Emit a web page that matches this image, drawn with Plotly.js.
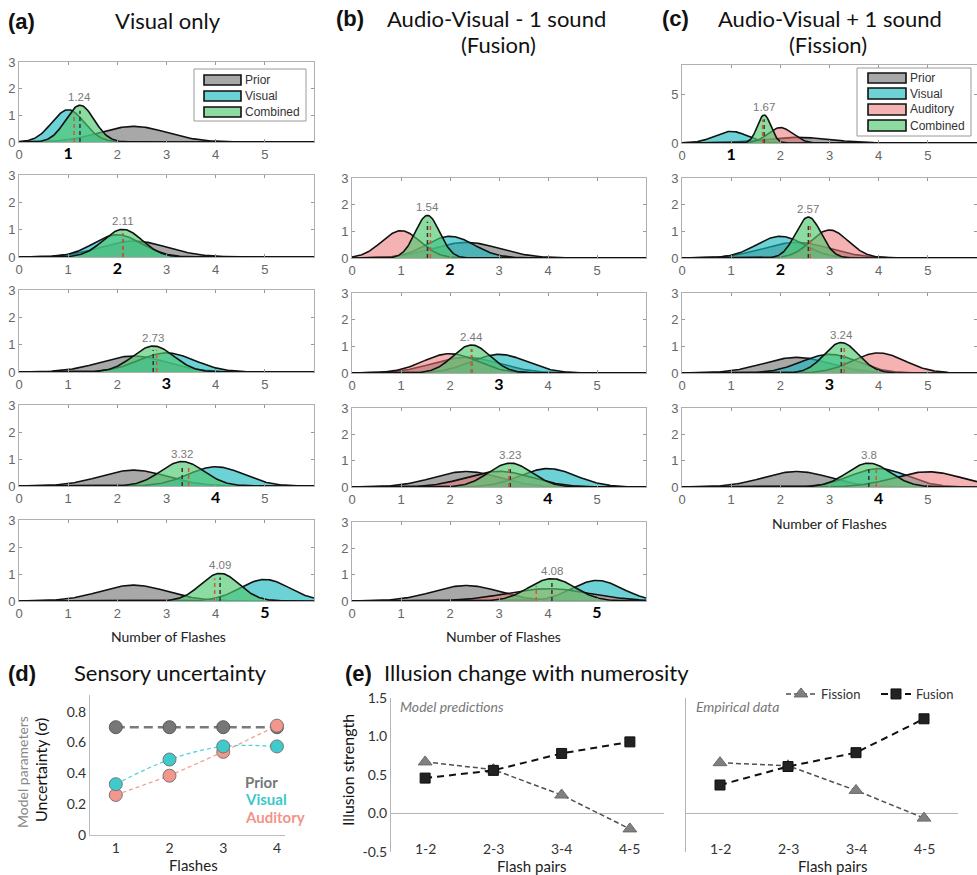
<!DOCTYPE html>
<html><head><meta charset="utf-8">
<script src="https://cdn.plot.ly/plotly-3.0.1.min.js"></script>
<style>body{margin:0;background:#fff}#chart{width:977px;height:875px}</style>
</head><body><div id="chart"></div>
<script>
// ---------------- DATA ----------------
const priorMean = 2.33;
const priorSigma = 0.68;
// (a) Visual only, rows = 1..5 flashes
const aFlashes = [1, 2, 3, 4, 5];
const aVisualMean = [1, 2, 3, 4, 5];
const aVisualSigma = [0.33, 0.49, 0.57, 0.56, 0.50];
const aCombinedMean = [1.24, 2.11, 2.73, 3.32, 4.09];
const aCombinedSigma = [0.29, 0.395, 0.42, 0.44, 0.39];
const aRedMarker = [1.12, 2.11, 2.80, 3.45, 3.98];
// (b) Audio-Visual - 1 sound (Fusion), rows = 2..5 flashes
const bFlashes = [2, 3, 4, 5];
const bVisualMean = [2, 3, 4, 5];
const bVisualSigma = [0.49, 0.57, 0.57, 0.51];
const bAuditoryMean = [1, 2, 3, 4];
const bAuditorySigma = [0.39, 0.55, 0.67, 0.85];
const bCombinedMean = [1.54, 2.44, 3.23, 4.08];
const bCombinedSigma = [0.25, 0.38, 0.44, 0.47];
const bRedMarker = [1.60, 2.44, 3.20, 3.76];
// (c) Audio-Visual + 1 sound (Fission), rows = 1..4 flashes
const cFlashes = [1, 2, 3, 4];
const cVisualMean = [1, 2, 3, 4];
const cVisualSigma = [0.33, 0.49, 0.57, 0.57];
const cAuditoryMean = [2, 3, 4, 5];
const cAuditorySigma = [0.25, 0.38, 0.53, 0.69];
const cCombinedMean = [1.67, 2.57, 3.24, 3.80];
const cCombinedSigma = [0.137, 0.26, 0.35, 0.44];
const cRedMarker = [1.64, 2.61, 3.30, 3.95];
// (d) Sensory uncertainty
const dFlashes = [1, 2, 3, 4];
const dPrior = [0.70, 0.70, 0.70, 0.70];
const dVisual = [0.33, 0.49, 0.575, 0.575];
const dAuditory = [0.26, 0.385, 0.54, 0.71];
// (e) Illusion change with numerosity
const flashPairs = ['1-2', '2-3', '3-4', '4-5'];
const modelFission = [0.67, 0.57, 0.24, -0.20];
const modelFusion = [0.46, 0.56, 0.78, 0.93];
const empFission = [0.66, 0.62, 0.30, -0.06];
const empFusion = [0.37, 0.61, 0.79, 1.23];

// ---------------- HELPERS ----------------
const W = 977, H = 875;
const px = v => v / W;
const py = v => 1 - v / H;
const TITLE_FONT = 'Lato, "Open Sans", sans-serif';
const TICK_FONT = '"Liberation Sans", Arial, sans-serif';
const COL = {
  prior: 'rgba(110,110,110,0.6)',
  visual: 'rgba(25,185,190,0.64)',
  auditory: 'rgba(236,115,115,0.55)',
  combined: 'rgba(80,200,112,0.66)'
};
function pdf(x, m, s) { return Math.exp(-0.5 * ((x - m) / s) ** 2) / (s * Math.sqrt(2 * Math.PI)); }
const xs = []; for (let i = 0; i <= 300; i++) xs.push(i * 0.02);

const traces = [];
const layout = {
  width: W, height: H, margin: {l: 0, r: 0, t: 0, b: 0, autoexpand: false},
  paper_bgcolor: '#fff', plot_bgcolor: '#fff', showlegend: true,
  font: {family: TITLE_FONT, color: '#222'},
  annotations: [], shapes: [],
  legend: {orientation: 'h', x: px(781), xanchor: 'left', y: py(679), yanchor: 'top',
           entrywidth: 50, entrywidthmode: 'pixels',
           font: {family: TITLE_FONT, size: 13, color: '#333'}, bgcolor: 'rgba(0,0,0,0)', traceorder: 'normal'}
};
let axN = 0;
function distPanel(xL, xR, yT, yB, bold, yMax, yTicks) {
  axN++;
  const k = axN === 1 ? '' : axN;
  const tt = [0,1,2,3,4,5].map(v => v === bold
    ? `<b><span style="color:#000;font-size:16px;font-family:Lato">${v}</span></b>` : String(v));
  layout['xaxis' + k] = {domain: [px(xL), px(xR)], range: [0, 6], anchor: 'y' + k,
    tickvals: [0,1,2,3,4,5], ticktext: tt, ticks: 'inside', ticklen: 3, tickcolor: '#999',
    showline: true, mirror: 'ticks', linecolor: '#b0b0b0', linewidth: 1, showgrid: false, zeroline: false,
    tickfont: {family: TICK_FONT, size: 13, color: '#666'}, fixedrange: true};
  layout['yaxis' + k] = {domain: [py(yB), py(yT)], range: [0, yMax], anchor: 'x' + k,
    tickvals: yTicks, ticks: 'inside', ticklen: 3, tickcolor: '#999',
    showline: true, mirror: 'ticks', linecolor: '#b0b0b0', linewidth: 1, showgrid: false, zeroline: false,
    tickfont: {family: TICK_FONT, size: 13, color: '#666'}, fixedrange: true};
  return {xa: 'x' + k, ya: 'y' + k};
}
function addDist(ax, m, s, fill) {
  traces.push({x: xs, y: xs.map(x => pdf(x, m, s)), xaxis: ax.xa, yaxis: ax.ya, type: 'scatter',
    mode: 'lines', fill: 'tozeroy', fillcolor: fill, line: {color: '#111', width: 1.6},
    hoverinfo: 'skip', showlegend: false});
}
function addMarkers(ax, darkX, redX, cm, cs) {
  const h1 = 0.85 * pdf(darkX, cm, cs), h2 = 0.85 * pdf(redX, cm, cs);
  traces.push({x: [darkX, darkX], y: [0, h1], xaxis: ax.xa, yaxis: ax.ya, mode: 'lines',
    line: {color: '#333', width: 1.5, dash: '4px,3px'}, hoverinfo: 'skip', showlegend: false});
  traces.push({x: [redX, redX], y: [0, h2], xaxis: ax.xa, yaxis: ax.ya, mode: 'lines',
    line: {color: '#d0583a', width: 1.5, dash: '4px,3px'}, hoverinfo: 'skip', showlegend: false});
  layout.annotations.push({xref: ax.xa, yref: ax.ya, x: cm, y: pdf(cm, cm, cs), yanchor: 'bottom',
    yshift: 0, text: cm.toString(), showarrow: false, font: {family: TICK_FONT, size: 11.5, color: '#7a7a7a'}});
}

// ---------------- (a) ----------------
const aRows = [[62,142],[175,257],[290,372],[405,486],[520,601]];
aFlashes.forEach((n, i) => {
  const ax = distPanel(19, 314, aRows[i][0], aRows[i][1], n, 3, [0,1,2,3]);
  addDist(ax, priorMean, priorSigma, COL.prior);
  addDist(ax, aVisualMean[i], aVisualSigma[i], COL.visual);
  addDist(ax, aCombinedMean[i], aCombinedSigma[i], COL.combined);
  addMarkers(ax, aCombinedMean[i], aRedMarker[i], aCombinedMean[i], aCombinedSigma[i]);
});
// ---------------- (b) ----------------
const bRows = [[178,258],[293,373],[408,487],[522,601]];
bFlashes.forEach((n, i) => {
  const ax = distPanel(352, 646, bRows[i][0], bRows[i][1], n, 3, [0,1,2,3]);
  addDist(ax, priorMean, priorSigma, COL.prior);
  addDist(ax, bVisualMean[i], bVisualSigma[i], COL.visual);
  addDist(ax, bAuditoryMean[i], bAuditorySigma[i], COL.auditory);
  addDist(ax, bCombinedMean[i], bCombinedSigma[i], COL.combined);
  addMarkers(ax, bCombinedMean[i], bRedMarker[i], bCombinedMean[i], bCombinedSigma[i]);
});
// ---------------- (c) ----------------
const cRows = [[65,143],[178,258],[293,373],[408,487]];
cFlashes.forEach((n, i) => {
  const ax = i === 0 ? distPanel(682, 977, cRows[i][0], cRows[i][1], n, 8.1, [0,5])
                     : distPanel(682, 977, cRows[i][0], cRows[i][1], n, 3, [0,1,2,3]);
  addDist(ax, priorMean, priorSigma, COL.prior);
  addDist(ax, cVisualMean[i], cVisualSigma[i], COL.visual);
  addDist(ax, cAuditoryMean[i], cAuditorySigma[i], COL.auditory);
  addDist(ax, cCombinedMean[i], cCombinedSigma[i], COL.combined);
  addMarkers(ax, cCombinedMean[i], cRedMarker[i], cCombinedMean[i], cCombinedSigma[i]);
});

// legends for (a) and (c)
function drawLegend(x0, x1, y0, y1, items, swX0, swX1, rows) {
  layout.shapes.push({type: 'rect', xref: 'paper', yref: 'paper', x0: px(x0), x1: px(x1), y0: py(y1), y1: py(y0),
    line: {color: '#9a9a9a', width: 1}, fillcolor: '#fff', layer: 'above'});
  items.forEach((it, j) => {
    layout.shapes.push({type: 'rect', xref: 'paper', yref: 'paper', x0: px(swX0), x1: px(swX1),
      y0: py(rows[j][1]), y1: py(rows[j][0]), line: {color: '#111', width: 1.6}, fillcolor: it[1], layer: 'above'});
    layout.annotations.push({xref: 'paper', yref: 'paper', x: px(swX1 + 2), y: py((rows[j][0] + rows[j][1]) / 2),
      xanchor: 'left', yanchor: 'middle', text: it[0], showarrow: false,
      font: {family: TICK_FONT, size: 12, color: '#333'}});
  });
}
drawLegend(194, 306, 69, 121, [['Prior', COL.prior], ['Visual', COL.visual], ['Combined', COL.combined]],
  204, 241, [[75,85],[91,101],[107,117]]);
drawLegend(857, 971, 68, 136, [['Prior', COL.prior], ['Visual', COL.visual], ['Auditory', COL.auditory], ['Combined', COL.combined]],
  868, 906, [[73,83],[88,99],[104,115],[120,131]]);

// ---------------- (d) ----------------
axN++; const dk = axN;
layout['xaxis' + dk] = {domain: [px(90), px(285)], range: [0.52, 4.15], anchor: 'y' + dk, tickvals: dFlashes,
  showline: true, linecolor: '#bdbdbd', showgrid: false, zeroline: false, ticks: '',
  tickfont: {family: TITLE_FONT, size: 14, color: '#333'}, fixedrange: true};
layout['yaxis' + dk] = {domain: [py(835), py(695)], range: [0, 0.909], anchor: 'x' + dk,
  tickvals: [0, 0.2, 0.4, 0.6, 0.8], ticktext: ['0', '0.2', '0.4', '0.6', '0.8'],
  showline: true, linecolor: '#bdbdbd', showgrid: false, zeroline: false, ticks: '',
  tickfont: {family: TITLE_FONT, size: 14, color: '#333'}, fixedrange: true};
traces.push({x: dFlashes, y: dPrior, xaxis: 'x' + dk, yaxis: 'y' + dk, mode: 'lines+markers', showlegend: false,
  line: {color: '#7a7a7a', width: 2.6, dash: '9px,5px'},
  marker: {size: 13, color: '#777', line: {color: '#5a5a5a', width: 1}}, hoverinfo: 'skip'});
traces.push({x: dFlashes, y: dAuditory, xaxis: 'x' + dk, yaxis: 'y' + dk, mode: 'lines+markers', showlegend: false,
  line: {color: '#f2a098', width: 1.3, dash: '4px,3px'},
  marker: {size: 13, color: '#f3968c', line: {color: '#777', width: 1}}, hoverinfo: 'skip'});
traces.push({x: dFlashes, y: dVisual, xaxis: 'x' + dk, yaxis: 'y' + dk, mode: 'lines+markers', showlegend: false,
  line: {color: '#55d2d4', width: 1.3, dash: '4px,3px', shape: 'spline', smoothing: 1},
  marker: {size: 13, color: '#3fcacc', line: {color: '#777', width: 1}}, hoverinfo: 'skip'});

// ---------------- (e) ----------------
function ePanel(xL, xR, showTicks) {
  axN++; const k = axN;
  layout['xaxis' + k] = {domain: [px(xL), px(xR)], type: 'category', range: [-0.5, 3.5], anchor: 'y' + k,
    showline: false, showgrid: false, zeroline: false, ticks: '', showticklabels: false, fixedrange: true};
  layout['yaxis' + k] = {domain: [py(852), py(698)], range: [-0.5, 1.5], anchor: 'x' + k,
    tickvals: [-0.5, 0, 0.5, 1, 1.5], ticktext: ['-0.5', '0.0', '0.5', '1.0', '1.5'], showticklabels: showTicks,
    showline: true, linecolor: '#b5b5b5', showgrid: false, zeroline: true, zerolinecolor: '#b5b5b5', zerolinewidth: 1,
    ticks: '', tickfont: {family: TITLE_FONT, size: 14, color: '#333'}, fixedrange: true};
  // category labels sit inside the bottom of the plot area (Excel style)
  flashPairs.forEach(c => layout.annotations.push({xref: 'x' + k, yref: 'paper', x: c, y: py(848),
    text: c, showarrow: false, yanchor: 'middle', font: {family: TITLE_FONT, size: 14, color: '#333'}}));
  return k;
}
const e1 = ePanel(391, 664, true);
const e2 = ePanel(686, 958, false);
[[e1, modelFission, modelFusion, true], [e2, empFission, empFusion, false]].forEach(([k, fi, fu, leg]) => {
  traces.push({x: flashPairs, y: fi, xaxis: 'x' + k, yaxis: 'y' + k, mode: 'lines+markers', name: 'Fission',
    showlegend: leg, line: {color: '#505050', width: 1.5, dash: '5px,3px'},
    marker: {symbol: 'triangle-up', size: 12, color: '#808080', line: {color: '#6a6a6a', width: 1}}, hoverinfo: 'skip'});
  traces.push({x: flashPairs, y: fu, xaxis: 'x' + k, yaxis: 'y' + k, mode: 'lines+markers', name: 'Fusion',
    showlegend: leg, line: {color: '#111', width: 2, dash: '7px,5px'},
    marker: {symbol: 'square', size: 10, color: '#222', line: {color: '#111', width: 1}}, hoverinfo: 'skip'});
});

// ---------------- TEXT ----------------
function txt(x, y, t, o) {
  layout.annotations.push(Object.assign({xref: 'paper', yref: 'paper', x: px(x), y: py(y), text: t, showarrow: false,
    xanchor: 'center', yanchor: 'middle', font: {family: TITLE_FONT, size: 22, color: '#111'}}, o || {}));
}
const boldF = {family: '"Liberation Sans", Arial, sans-serif', size: 22, color: '#111'};
txt(6, 22, '<b>(a)</b>', {xanchor: 'left', font: boldF});
txt(168, 20, 'Visual only');
txt(334, 18, '<b>(b)</b>', {xanchor: 'left', font: boldF});
txt(497, 18, 'Audio-Visual - 1 sound');
txt(498, 45, '(Fusion)');
txt(660, 18, '<b>(c)</b>', {xanchor: 'left', font: boldF});
txt(830, 18, 'Audio-Visual + 1 sound');
txt(828, 45, '(Fission)');
const nf = {family: TITLE_FONT, size: 14, color: '#222'};
txt(168, 636, 'Number of Flashes', {font: nf});
txt(503, 636, 'Number of Flashes', {font: nf});
txt(829, 523, 'Number of Flashes', {font: nf});
txt(6, 673, '<b>(d)</b>', {xanchor: 'left', font: boldF});
txt(72, 672, 'Sensory uncertainty', {xanchor: 'left'});
txt(22, 772, 'Model parameters', {textangle: -90, font: {family: TITLE_FONT, size: 14, color: '#888'}});
txt(40, 770, 'Uncertainty (σ)', {textangle: -90, font: {family: TITLE_FONT, size: 16, color: '#111'}});
txt(193, 865, 'Flashes', {font: {family: TITLE_FONT, size: 15, color: '#222'}});
txt(243, 782, '<b>Prior</b>', {xanchor: 'left', font: {family: TITLE_FONT, size: 15, color: '#777'}});
txt(243, 799, '<b>Visual</b>', {xanchor: 'left', font: {family: TITLE_FONT, size: 15, color: '#3cc8ca'}});
txt(243, 817, '<b>Auditory</b>', {xanchor: 'left', font: {family: TITLE_FONT, size: 15, color: '#f2948a'}});
txt(343, 673, '<b>(e)</b>', {xanchor: 'left', font: boldF});
txt(382, 672, 'Illusion change with numerosity', {xanchor: 'left'});
txt(347, 770, 'Illusion strength', {textangle: -90, font: {family: TITLE_FONT, size: 16, color: '#111'}});
txt(398, 706, '<i>Model predictions</i>', {xanchor: 'left', font: {family: TITLE_FONT, size: 14, color: '#777'}});
txt(694, 706, '<i>Empirical data</i>', {xanchor: 'left', font: {family: TITLE_FONT, size: 14, color: '#777'}});
txt(531, 866, 'Flash pairs', {font: {family: TITLE_FONT, size: 15, color: '#222'}});
txt(832, 866, 'Flash pairs', {font: {family: TITLE_FONT, size: 15, color: '#222'}});

Plotly.newPlot('chart', traces, layout, {staticPlot: true});
</script></body></html>
